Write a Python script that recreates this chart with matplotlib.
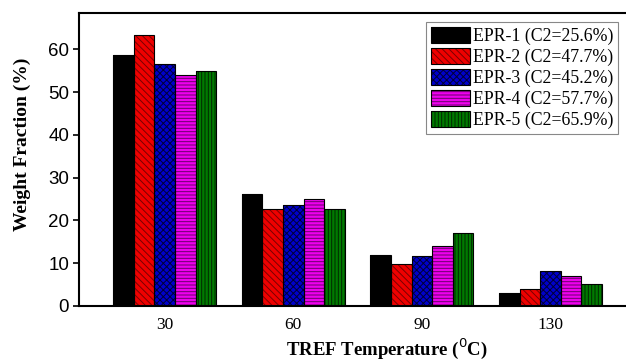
import numpy as np
import matplotlib
matplotlib.use("Agg")
import matplotlib.pyplot as plt
from matplotlib.patches import Patch
from matplotlib.legend_handler import HandlerTuple

temperatures = ["30", "60", "90", "130"]
series_labels = [
    "EPR-1 (C2=25.6%)",
    "EPR-2 (C2=47.7%)",
    "EPR-3 (C2=45.2%)",
    "EPR-4 (C2=57.7%)",
    "EPR-5 (C2=65.9%)",
]
epr1 = [58.7, 26.2, 12.0, 3.1]
epr2 = [63.3, 22.7, 9.8, 3.9]
epr3 = [56.5, 23.6, 11.7, 8.1]
epr4 = [53.9, 25.0, 13.9, 7.1]
epr5 = [55.0, 22.7, 17.1, 5.1]

face_colors = ["#000000", "#ee0000", "#0000cc", "#ee00ee", "#007a00"]
hatch_colors = ["#000000", "#7a0000", "#00003a", "#6a006a", "#002800"]
hatches = [None, "\\\\\\\\\\", "xxxxx", "-----", "|||||"]

plt.rcParams["hatch.linewidth"] = 0.7

fig = plt.figure(figsize=(6.26, 3.62), dpi=100)
ax = fig.add_axes([0.126, 0.155, 0.876, 0.809])

x = np.arange(len(temperatures))
width = 0.16
all_series = [epr1, epr2, epr3, epr4, epr5]
handles = []
for i, vals in enumerate(all_series):
    pos = x + (i - 2) * width
    # hatched fill, hatch drawn in a darker shade of the face colour
    ax.bar(pos, vals, width, color=face_colors[i], edgecolor=hatch_colors[i],
           hatch=hatches[i], linewidth=0, zorder=2)
    # black outline on top
    ax.bar(pos, vals, width, fill=False, edgecolor="black", linewidth=0.8, zorder=3)
    fill_h = Patch(facecolor=face_colors[i], edgecolor=hatch_colors[i],
                   hatch=hatches[i], linewidth=0)
    edge_h = Patch(fill=False, edgecolor="black", linewidth=0.8)
    handles.append((fill_h, edge_h))

ax.set_xlim(-0.667, 3.597)
ax.set_ylim(0, 68.5)
ax.set_xticks(x)
ax.set_xticklabels(temperatures, family="Liberation Serif", fontsize=12.5)
ax.set_yticks(np.arange(0, 61, 10))
for lab in ax.get_yticklabels():
    lab.set_family("Liberation Sans")
    lab.set_fontsize(13.5)
ax.tick_params(axis="x", length=0, pad=8)
ax.tick_params(axis="y", direction="out", length=4, width=1.2, pad=3)

for s in ax.spines.values():
    s.set_linewidth(1.5)
ax.spines["right"].set_visible(False)

ax.set_xlabel("TREF Temperature ($^0$C)", family="Liberation Serif",
              fontweight="bold", fontsize=13.5)
ax.set_ylabel("Weight Fraction (%)", family="Liberation Serif",
              fontweight="bold", fontsize=14)
ax.xaxis.set_label_coords(0.562, -0.103)
ax.yaxis.set_label_coords(-0.088, 0.553)

leg = ax.legend(handles, series_labels, loc="upper right",
                bbox_to_anchor=(0.9836, 0.969), borderaxespad=0,
                prop={"family": "Liberation Serif", "size": 12.8},
                handler_map={tuple: HandlerTuple(ndivide=1)},
                handlelength=2.2, handleheight=1.05, handletextpad=0.2,
                labelspacing=0.15, borderpad=0.25, fancybox=False,
                edgecolor="#888888", framealpha=1)
leg.get_frame().set_linewidth(0.8)

fig.savefig("out.png", dpi=100)
